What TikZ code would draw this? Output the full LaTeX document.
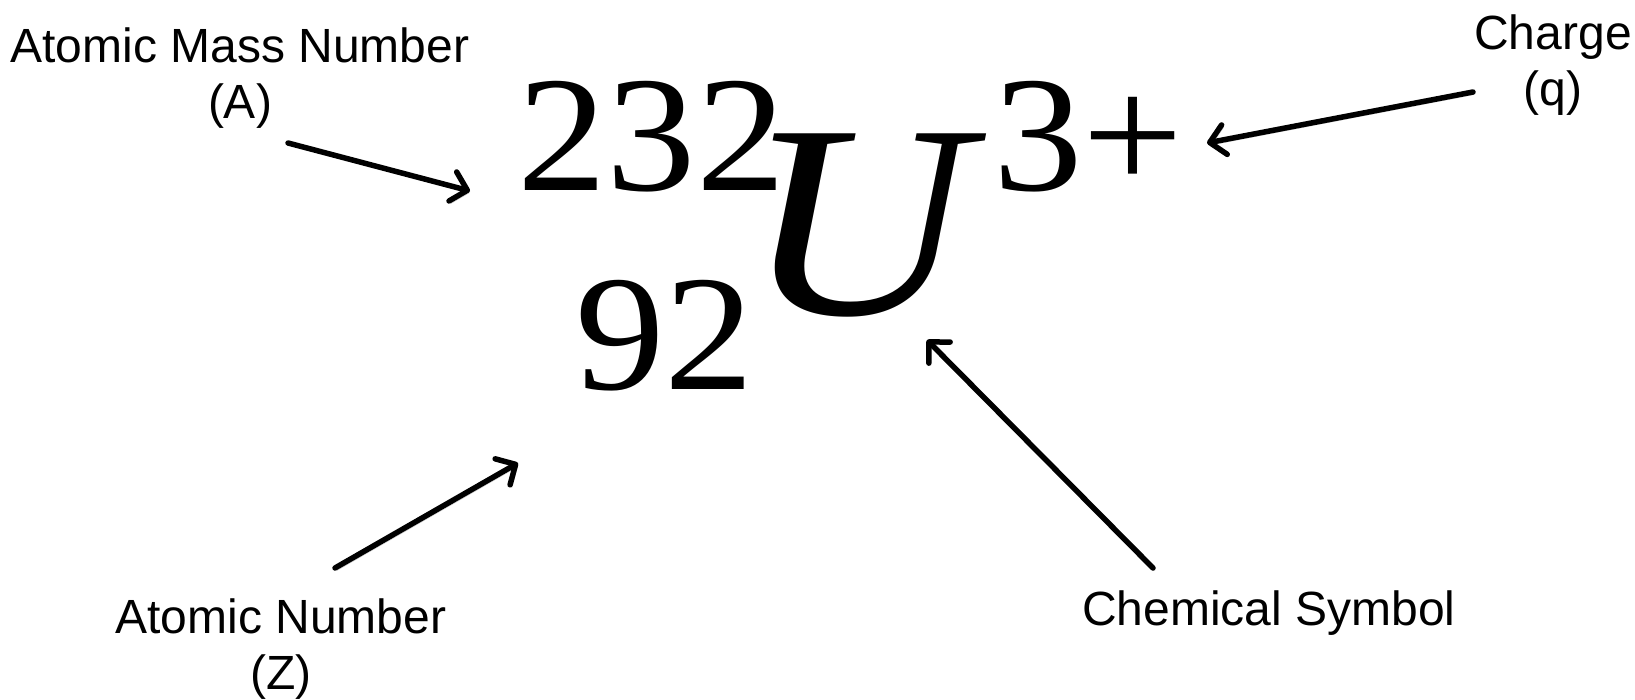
\documentclass[tikz,border=0pt]{standalone}
\usepackage{graphicx}
\usepackage{fontspec}
\setmainfont{Liberation Serif}
\newfontfamily\labelfont{Liberation Sans}
\usetikzlibrary{arrows.meta}

\newcommand{\widen}[2]{\scalebox{#1}[1]{#2}}

\begin{document}
\begin{tikzpicture}[
    x=1pt, y=-1pt,
    partname/.style={font=\labelfont\fontsize{48}{56}\selectfont, align=center, inner sep=0pt, anchor=base},
    numeral/.style={font=\fontsize{165}{165}\selectfont, inner sep=0pt, anchor=base west},
    pointer/.style={line width=5.5pt, -{Straight Barb[length=15pt, width=30pt, round]}, line cap=round,
        preaction={draw=black!22, transform canvas={shift={(2pt,-2.5pt)}}}}
]
    \useasboundingbox (0,0) rectangle (1635,700);

    % the isotope symbol
    \node[numeral] (mass) at (517,191) {\widen{1.085}{232}};
    \node[numeral] (atomic) at (575,389) {\widen{1.085}{92}};
    \node[anchor=base west, inner sep=0pt, font=\itshape\fontsize{276}{276}\selectfont] (symbol) at (744,315) {\widen{1.13}{U}};
    \node[numeral] (charge) at (993,191) {\widen{1.085}{3+}};

    % the labels (anchored on the last line)
    \node[partname] (massLbl) at (240,119) {Atomic Mass Number\\(A)};
    \node[partname] (chargeLbl) at (1553,106) {Charge\\(q)};
    \node[partname] (atomicLbl) at (281,689) {Atomic Number\\(Z)};
    \node[partname] (symbolLbl) at (1269,625) {Chemical Symbol};

    % arrow ends
    \coordinate (massTail) at (288,143);
    \coordinate (massTip) at (470,191);
    \coordinate (chargeTail) at (1473,92);
    \coordinate (chargeTip) at (1207,143);
    \coordinate (atomicTail) at (335,568);
    \coordinate (atomicTip) at (518,463);
    \coordinate (symbolTail) at (1153,568);
    \coordinate (symbolTip) at (927,340);

    \draw[pointer] (massTail) -- (massTip);
    \draw[pointer] (chargeTail) -- (chargeTip);
    \draw[pointer] (atomicTail) -- (atomicTip);
    \draw[pointer] (symbolTail) -- (symbolTip);
\end{tikzpicture}
\end{document}
